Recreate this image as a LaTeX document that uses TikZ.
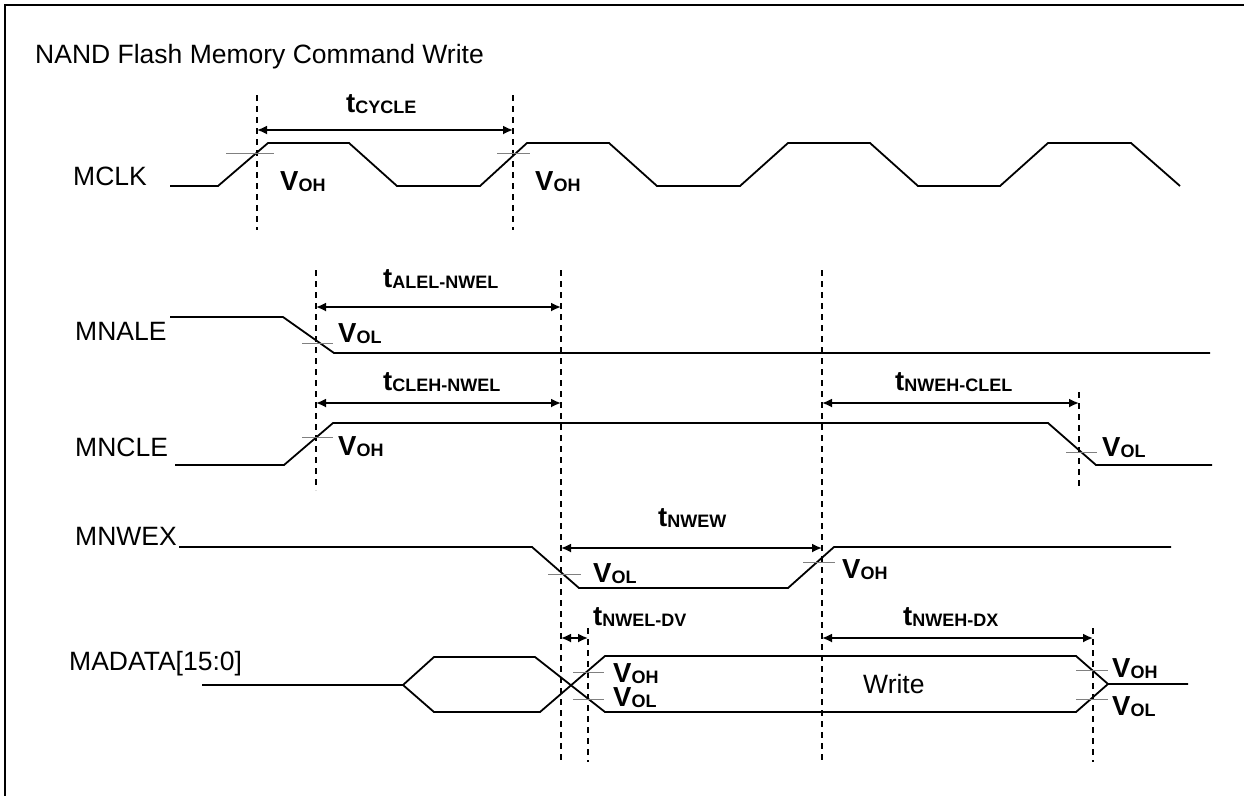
\documentclass[tikz,border=0pt]{standalone}
\usepackage{fontspec}
\setmainfont{Liberation Sans}
\usetikzlibrary{arrows.meta}
\newcommand{\vlab}[1]{\textbf{\fontsize{27.5}{30}\selectfont V\raisebox{-1pt}{\fontsize{18}{20}\selectfont #1}}}
\newcommand{\tlab}[1]{\textbf{\fontsize{27.5}{30}\selectfont t\raisebox{-1pt}{\fontsize{18}{20}\selectfont #1}}}
\begin{document}
\begin{tikzpicture}[x=1pt, y=-1pt,
		sig/.style={line width=1.8pt},
		guide/.style={line width=1.6pt, dash pattern=on 6pt off 5pt},
		tick/.style={line width=1pt, gray},
		dim/.style={line width=1.8pt, {Latex[length=10pt,width=9pt]}-{Latex[length=10pt,width=9pt]}},
		txt/.style={anchor=base west, inner sep=0pt, font=\fontsize{26.5}{30}\selectfont}]
		\useasboundingbox (0,0) rectangle (1244,796);
		\draw[line width=2.5pt] (1244,5) -- (5,5) -- (5,796);
		
		\node[txt] (title) at (35,63) {NAND Flash Memory Command Write};
		\node[txt] (mclk) at (73,185) {MCLK};
		\node[txt] (mnale) at (75,340) {MNALE};
		\node[txt] (mncle) at (75,456) {MNCLE};
		\node[txt] (mnwex) at (75,545) {MNWEX};
		\node[txt] (madata) at (69,670) {MADATA[15:0]};
		\node[txt] (write) at (863,693) {Write};
		
		% waveforms
		\draw[sig] (170,186) -- (218,186) -- (268,143) -- (349,143) -- (397,186) -- (480,186) -- (527,143) -- (609,143) -- (657,186) -- (740,186) -- (788,143) -- (870,143) -- (918,186) -- (1000,186) -- (1048,143) -- (1131,143) -- (1180,186);
		\draw[sig] (170,317) -- (283,317) -- (334,353) -- (1210,353);
		\draw[sig] (175,465) -- (284,465) -- (333,423) -- (1048,423) -- (1096,465) -- (1212,465);
		\draw[sig] (179,547) -- (532,547) -- (579,588) -- (788,588) -- (834,547) -- (1171,547);
		\draw[sig] (202,685) -- (403,685) -- (434,657) -- (535,657) -- (605,712) -- (1076,712) -- (1108,684) -- (1188,684);
		\draw[sig] (403,685) -- (434,712) -- (540,712) -- (605,656) -- (1076,656) -- (1108,684);
		
		% guides
		\draw[guide] (257,95) -- (257,230);
		\draw[guide] (513,95) -- (513,230);
		\draw[guide] (316,270) -- (316,490);
		\draw[guide] (561,270) -- (561,760);
		\draw[guide] (822,270) -- (822,760);
		\draw[guide] (1079,392) -- (1079,490);
		\draw[guide] (588,628) -- (588,762);
		\draw[guide] (1093,628) -- (1093,762);
		
		% levels
		\draw[tick] (226,153) -- (274,153);
		\draw[tick] (497,153) -- (530,153);
		\draw[tick] (302,343) -- (333,343);
		\draw[tick] (302,437) -- (333,437);
		\draw[tick] (1066,452) -- (1097,452);
		\draw[tick] (548,574) -- (581,574);
		\draw[tick] (803,562) -- (835,562);
		\draw[tick] (573,672) -- (604,672);
		\draw[tick] (573,699) -- (604,699);
		\draw[tick] (1076,670) -- (1108,670);
		\draw[tick] (1076,699) -- (1108,699);
		
		\node[txt] (voh1) at (280,190) {\vlab{OH}};
		\node[txt] (voh2) at (535,190) {\vlab{OH}};
		\node[txt] (vol1) at (338,342) {\vlab{OL}};
		\node[txt] (voh3) at (338,455) {\vlab{OH}};
		\node[txt] (vol2) at (1102,456) {\vlab{OL}};
		\node[txt] (vol3) at (593,582) {\vlab{OL}};
		\node[txt] (voh4) at (842,578) {\vlab{OH}};
		\node[txt] (voh5) at (613,682) {\vlab{OH}};
		\node[txt] (vol4) at (613,706) {\vlab{OL}};
		\node[txt] (voh6) at (1112,677) {\vlab{OH}};
		\node[txt] (vol5) at (1112,715) {\vlab{OL}};
		
		% timings
		\coordinate (cyc1) at (257,130); \coordinate (cyc2) at (513,130);
		\coordinate (ale1) at (316,307); \coordinate (ale2) at (561,307);
		\coordinate (cle1) at (316,403); \coordinate (cle2) at (561,403);
		\coordinate (clel1) at (822,403); \coordinate (clel2) at (1079,403);
		\coordinate (wew1) at (561,548); \coordinate (wew2) at (822,548);
		\coordinate (dv1) at (561,638); \coordinate (dv2) at (588,638);
		\coordinate (dx1) at (822,638); \coordinate (dx2) at (1093,638);
		\draw[dim] (cyc1) -- (cyc2);
		\draw[dim] (ale1) -- (ale2);
		\draw[dim] (cle1) -- (cle2);
		\draw[dim] (clel1) -- (clel2);
		\draw[dim] (wew1) -- (wew2);
		\draw[dim] (dv1) -- (dv2);
		\draw[dim] (dx1) -- (dx2);
		
		\node[txt] (tcyc) at (346,112) {\tlab{CYCLE}};
		\node[txt] (tale) at (383,287) {\tlab{ALEL-NWEL}};
		\node[txt] (tcle) at (383,390) {\tlab{CLEH-NWEL}};
		\node[txt] (tclel) at (895,390) {\tlab{NWEH-CLEL}};
		\node[txt] (twew) at (658,526) {\tlab{NWEW}};
		\node[txt] (tdv) at (593,625) {\tlab{NWEL-DV}};
		\node[txt] (tdx) at (903,625) {\tlab{NWEH-DX}};
	\end{tikzpicture}
\end{document}
